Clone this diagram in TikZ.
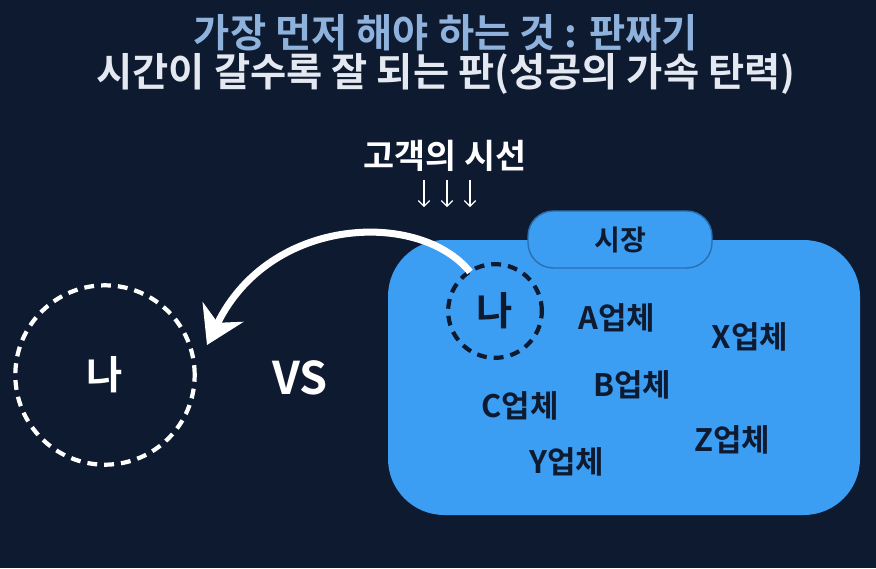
\documentclass[tikz,border=0pt]{standalone}
\usepackage{fontspec}
\setmainfont{Noto Sans CJK KR}[BoldFont={* Bold}]
\usetikzlibrary{arrows.meta}
\definecolor{bgnavy}{HTML}{0E1A30}
\definecolor{titleblue}{HTML}{8FB2DC}
\definecolor{titlewhite}{HTML}{E4E8F0}
\definecolor{mktblue}{HTML}{3C9EF2}
\definecolor{tabline}{HTML}{2A6FB0}
\tikzset{
  firm/.style={text=bgnavy, font=\bfseries\fontsize{22}{24}\selectfont},
  me/.style={circle, minimum size=#1, dashed, line width=3pt, dash pattern=on 7pt off 5pt},
}
\begin{document}
\begin{tikzpicture}[x=0.025cm, y=-0.025cm]
            \fill[bgnavy] (0,0) rectangle (876,568);
            \useasboundingbox (0,0) rectangle (876,568);

            \node[text=titleblue, font=\bfseries\fontsize{28}{30}\selectfont] (title) at (446,33) {가장 먼저 해야 하는 것 : 판짜기};
            \node[text=titlewhite, font=\bfseries\fontsize{28}{30}\selectfont] (subtitle) at (446,74) {시간이 갈수록 잘 되는 판(성공의 가속 탄력)};

            \node[text=white, font=\bfseries\fontsize{24}{26}\selectfont] (gaze) at (445,156) {고객의 시선};
            \foreach \x in {424,447,470} \draw[white, thick, -{Straight Barb[length=4pt]}] (\x,180) -- (\x,207);

            % market
            \fill[mktblue] (388,240) [rounded corners=40] rectangle (860,515);
            \draw[tabline, fill=mktblue, line width=1pt, rounded corners=18] (528,211) rectangle (712,268);
            \node[firm, font=\bfseries\fontsize{20}{22}\selectfont] (market) at (620,240) {시장};

            \node[me=94pt*0.7087, draw=bgnavy, text=bgnavy, font=\bfseries\fontsize{28}{30}\selectfont] (inner) at (495,311) {나};
            \node[me=180pt*0.7087, draw=white, text=white, font=\bfseries\fontsize{28}{30}\selectfont] (outer) at (105,375) {나};
            \node[text=white, font=\bfseries\fontsize{32}{34}\selectfont] (vs) at (300,378) {VS};

            \node[firm] (a) at (617,318) {A업체};
            \node[firm] (xf) at (750,337) {X업체};
            \node[firm] (b) at (632,385) {B업체};
            \node[firm] (c) at (520,406) {C업체};
            \node[firm] (z) at (732,440) {Z업체};
            \node[firm] (y) at (567,462) {Y업체};

            \coordinate (start) at (470,272);
            \coordinate (tip) at (207,345);
            \draw[white, line width=5pt, -{Stealth[length=26pt, width=32pt]}] (start) .. controls (420,210) and (270,215) .. (tip);
        \end{tikzpicture}
\end{document}
